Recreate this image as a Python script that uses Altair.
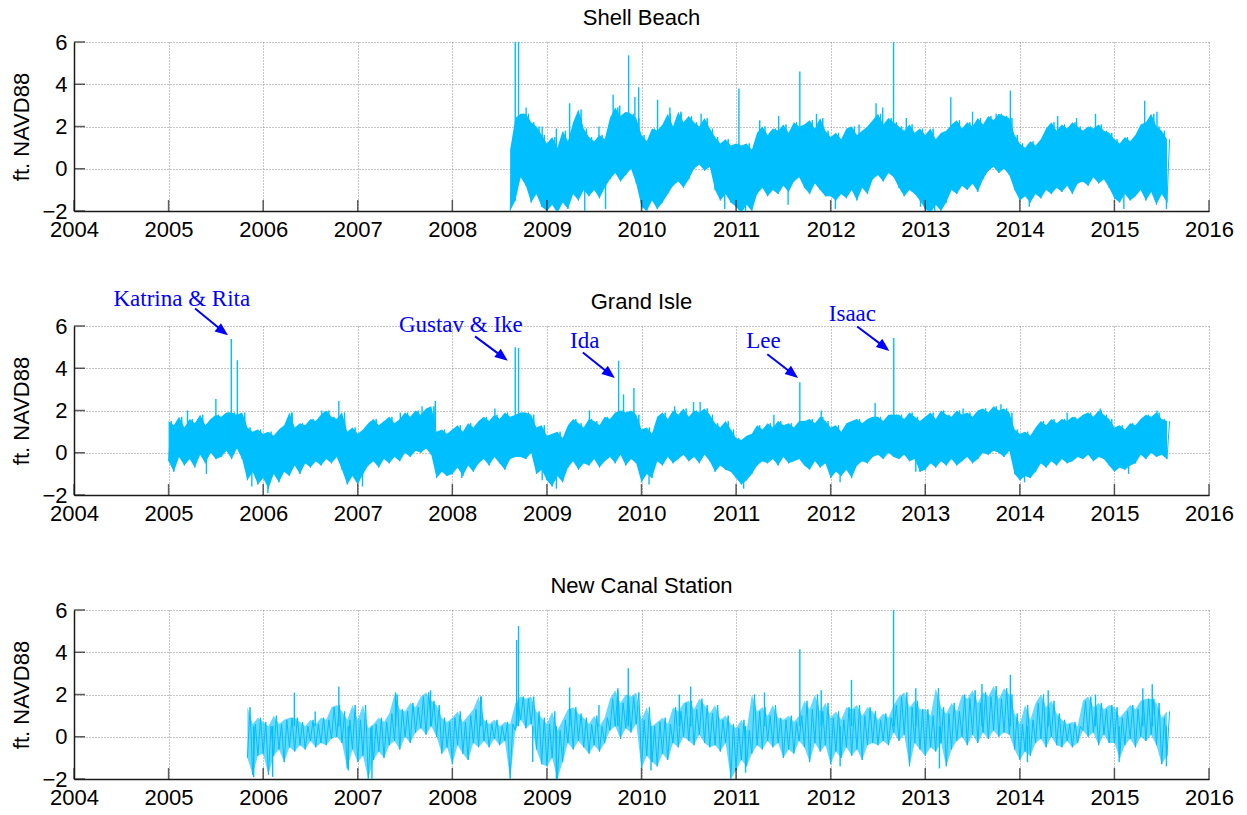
import altair as alt
import pandas as pd

# ---- axes -------------------------------------------------------------
YEARS = list(range(2004, 2017))
LEVEL_TICKS = [-2, 0, 2, 4, 6]

# Each station: low / high water level (ft NAVD88) envelope, one pair per
# 1/18 year (about 20 days), plus the short-lived highs and lows listed apart.
STEP = 1 / 18

SHELL_START = 2008 + 11 / 18
SHELL_LOW = [
    -2.0, -1.5, -0.4, -0.8, -1.6, -1.2, -1.8,
    -2.0, -1.7, -2.1, -1.6, -1.9, -1.2, -1.5, -1.0, -1.3, -1.0, -1.4, -0.9, -0.5, -0.2, -0.6, -0.3, 0.0, -0.7,
    -1.8, -2.0, -1.5, -1.9, -1.6, -1.2, -0.8, -0.6, -0.9, -0.5, 0.0, 0.2, -0.1, 0.1, -1.0, -1.5, -1.2, -1.6,
    -1.8, -2.1, -1.7, -2.0, -1.2, -0.9, -1.3, -1.0, -1.2, -0.8, -1.1, -0.6, -0.4, -0.9, -1.2, -0.7, -1.0, -1.3,
    -1.3, -1.5, -1.2, -1.4, -1.0, -1.5, -0.9, -1.2, -0.5, -0.3, -0.6, -0.2, -0.4, -0.9, -1.3, -1.0, -1.2, -1.5,
    -1.9, -2.1, -1.7, -2.0, -1.6, -1.0, -1.2, -0.8, -1.0, -0.7, -1.1, -0.5, -0.1, 0.1, -0.2, 0.0, -0.3, -1.0,
    -1.5, -1.3, -1.6, -1.2, -1.4, -1.0, -1.2, -0.9, -1.1, -0.8, -1.2, -0.7, -0.6, -0.8, -0.4, -0.7, -0.5, -0.9,
    -1.4, -1.6, -1.2, -1.5, -1.3, -1.0, -1.5, -1.1, -1.7, -1.2, -1.6,
]
SHELL_HIGH = [
    0.9, 2.4, 2.6, 2.6, 2.2, 2.0, 1.6,
    1.2, 1.5, 1.0, 1.8, 1.3, 2.2, 2.8, 1.9, 1.5, 1.3, 1.6, 1.4, 2.4, 2.9, 2.5, 2.7, 2.6, 2.4,
    1.6, 1.3, 1.9, 1.8, 2.1, 2.6, 2.0, 2.7, 2.2, 2.5, 2.2, 2.0, 2.4, 1.9, 1.5, 1.2, 1.4, 1.1,
    1.2, 1.1, 1.2, 0.9, 1.7, 2.0, 1.6, 1.9, 1.8, 2.1, 1.7, 2.2, 2.0, 2.1, 2.3, 1.9, 2.4, 1.8,
    1.5, 1.7, 1.4, 1.9, 2.0, 1.6, 1.8, 2.0, 2.3, 2.6, 2.1, 2.4, 2.2, 2.0, 1.8, 2.1, 1.7, 1.9,
    1.6, 1.9, 1.4, 1.7, 1.8, 2.1, 2.3, 1.9, 2.2, 2.0, 2.4, 2.1, 2.5, 2.3, 2.6, 2.5, 2.4, 1.6,
    1.2, 1.0, 1.3, 1.1, 1.4, 1.9, 2.2, 1.8, 2.1, 1.9, 2.2, 2.0, 1.8, 2.0, 1.9, 2.1, 1.8, 1.7,
    1.4, 1.2, 1.5, 1.3, 1.6, 2.1, 2.2, 2.6, 2.0, 1.8, 1.4,
]
SHELL_PEAK_YEAR = [2008.665, 2008.70, 2009.24, 2009.70, 2009.864, 2009.93, 2009.97,
                   2010.17, 2011.03, 2011.674, 2012.48, 2012.665, 2013.27, 2013.90, 2015.32,
                   2008.78, 2008.95, 2009.10, 2009.33, 2009.40, 2009.55, 2009.62, 2009.77,
                   2010.05, 2010.30, 2010.42, 2010.63, 2010.88, 2011.10, 2011.25, 2011.45,
                   2011.55, 2011.85, 2012.05, 2012.30, 2012.55, 2012.80, 2012.95, 2013.10,
                   2013.50, 2013.75, 2014.10, 2014.40, 2014.60, 2014.80, 2015.10, 2015.45,
                   2015.55]
SHELL_PEAK_LEVEL = [6.5, 6.5, 3.1, 3.5, 5.37, 3.4, 3.86,
                    3.27, 3.8, 4.6, 3.1, 6.5, 3.38, 3.7, 3.22,
                    2.9, 2.0, 1.9, 2.7, -2.1, 2.0, -1.9, 3.0,
                    -2.1, 2.9, 2.6, 2.6, -1.9, -2.2, 2.3, 2.5,
                    -1.7, 2.6, -1.9, 2.1, 2.9, 2.4, -1.8, -2.2,
                    2.7, 2.6, -1.8, 2.5, 2.4, 2.6, -1.9, 2.7,
                    -1.9]

GRAND_ISLE_START = 2005.0
GRAND_ISLE_LOW = [
    -0.4, -0.9, -0.2, -0.6, -0.3, -0.7, -0.1, -0.5, 0.0, -0.3, -0.2, 0.1, -0.3, 0.2, -0.3, -1.3, -0.9, -1.5,
    -1.2, -1.7, -1.0, -1.4, -0.9, -1.1, -0.6, -1.0, -0.5, -0.7, -0.4, -0.6, -0.3, -0.5, -0.2, -0.8, -1.5, -1.1,
    -1.5, -1.0, -0.6, -0.4, -0.7, -0.3, -0.5, -0.2, -0.4, 0.0, -0.2, 0.1, 0.0, 0.2, -0.1, -1.2, -0.9, -1.1,
    -1.0, -0.7, -1.1, -0.6, -0.9, -0.5, -0.3, -0.6, -0.2, -0.5, -0.8, -0.3, -0.2, -0.2, -0.3, 0.0, -1.0, -0.8,
    -1.3, -1.6, -1.1, -1.4, -0.7, -0.4, -0.8, -0.5, -0.6, -0.3, -0.7, -0.4, -0.2, -0.5, -0.1, -0.6, -0.3, -0.5,
    -1.4, -1.0, -1.2, -0.4, -0.6, -0.2, -0.5, -0.3, -0.1, -0.4, -0.2, -0.5, -0.1, -0.4, -0.9, -0.6, -0.8, -0.9,
    -1.2, -1.5, -1.3, -1.0, -0.6, -0.4, -0.5, -0.3, -0.6, -0.2, -0.5, -0.4, -0.3, -0.6, -0.8, -0.4, -0.7, -0.5,
    -1.2, -0.9, -1.1, -0.8, -1.2, -0.6, -0.4, -0.5, -0.2, -0.1, -0.3, 0.0, -0.2, -0.3, -0.1, -0.4, -0.3, -0.9,
    -0.8, -0.5, -0.7, -0.4, -0.6, -0.3, -0.6, -0.4, -0.2, -0.5, -0.3, 0.0, -0.1, 0.1, 0.0, -0.2, 0.1, -1.0,
    -1.3, -1.1, -1.2, -0.9, -0.5, -0.7, -0.4, -0.6, -0.3, -0.5, -0.4, -0.2, -0.3, -0.1, -0.4, -0.2, -0.3, -0.6,
    -0.9, -0.7, -0.8, -0.6, -0.5, -0.1, -0.3, 0.0, -0.2, -0.1, -0.3,
]
GRAND_ISLE_HIGH = [
    1.5, 1.3, 1.7, 1.2, 1.6, 1.4, 1.8, 1.3, 1.6, 1.8, 1.7, 1.9, 1.9, 1.8, 1.9, 1.2, 1.0, 1.1,
    0.9, 1.0, 0.8, 1.1, 1.3, 1.9, 1.2, 1.4, 1.3, 1.6, 1.5, 1.8, 2.0, 1.7, 1.6, 1.9, 1.0, 1.2,
    0.9, 1.1, 1.4, 1.6, 1.3, 1.5, 1.7, 1.4, 1.6, 1.9, 1.7, 2.0, 1.8, 2.1, 2.2, 1.0, 1.1, 0.9,
    1.1, 1.3, 1.0, 1.4, 1.2, 1.5, 1.7, 1.5, 1.8, 1.6, 1.9, 1.7, 1.8, 1.9, 1.9, 1.8, 1.2, 1.3,
    0.8, 0.9, 1.0, 0.7, 1.3, 1.6, 1.4, 1.2, 1.6, 1.5, 1.3, 1.7, 1.6, 1.9, 2.0, 1.9, 2.0, 1.8,
    1.1, 1.2, 0.9, 1.7, 1.9, 1.6, 2.0, 1.8, 2.1, 1.7, 2.0, 1.9, 2.1, 1.8, 1.4, 1.2, 1.5, 1.1,
    0.7, 0.6, 0.8, 0.9, 1.3, 1.1, 1.4, 1.2, 1.5, 1.3, 1.4, 1.2, 1.5, 1.5, 1.6, 1.4, 1.7, 1.5,
    1.2, 1.3, 1.0, 1.4, 1.5, 1.6, 1.4, 1.6, 1.7, 1.7, 1.5, 1.8, 1.8, 1.8, 1.6, 1.9, 1.7, 1.5,
    1.7, 1.9, 1.6, 2.0, 1.8, 1.7, 2.0, 1.8, 1.9, 1.7, 2.0, 2.1, 1.9, 2.2, 2.0, 2.1, 1.9, 1.1,
    0.9, 1.0, 0.8, 1.2, 1.5, 1.3, 1.6, 1.4, 1.6, 1.5, 1.7, 1.6, 1.8, 1.9, 1.7, 2.0, 1.8, 1.6,
    1.2, 1.3, 1.1, 1.4, 1.3, 1.6, 1.8, 1.7, 1.9, 1.6, 1.5,
]
GRAND_ISLE_PEAK_YEAR = [2005.50, 2005.663, 2005.727, 2006.80, 2007.82, 2008.665, 2008.70,
                        2009.758, 2009.81, 2009.92, 2010.55, 2011.674, 2012.47, 2012.667,
                        2005.20, 2005.40, 2005.88, 2006.05, 2006.30, 2006.62, 2007.05,
                        2007.45, 2007.68, 2008.10, 2008.45, 2008.95, 2009.10, 2009.45,
                        2010.08, 2010.35, 2010.62, 2011.08, 2011.40, 2011.90, 2012.10,
                        2012.90, 2013.40, 2013.80, 2014.05, 2014.50, 2014.85, 2015.15,
                        2015.45]
GRAND_ISLE_PEAK_LEVEL = [2.55, 5.39, 4.38, 2.45, 2.45, 5.0, 4.96,
                         4.36, 2.76, 3.07, 2.4, 3.34, 2.36, 5.43,
                         2.0, -1.0, -1.6, -1.9, 1.9, 2.0, -1.6,
                         1.9, 2.2, -1.2, 2.1, -1.3, -1.7, 2.0,
                         -1.5, 2.2, 2.4, -1.7, 1.8, 2.0, -1.4,
                         -0.9, 2.1, 2.3, -1.4, 1.9, 2.1, -1.0,
                         2.0]

NEW_CANAL_START = 2005 + 15 / 18
NEW_CANAL_LOW = [
    -1.0, -1.8, -0.9,
    -0.8, -1.8, -0.9, -0.6, -1.2, -0.5, -0.7, -0.4, -0.6, -0.2, -0.5, -0.3, -0.4, -0.1, 0.0, -0.3, -1.5, -0.6,
    -1.2, -0.9, -2.0, -1.1, -0.7, -1.0, -0.4, -0.2, -0.6, 0.0, -0.3, 0.2, 0.4, 0.1, 0.5, 0.0, -0.8, -0.5,
    -1.3, -0.4, -0.8, -1.1, -0.3, -0.5, -0.2, -0.5, -0.1, -0.4, -0.2, -2.0, 0.3, 0.8, 0.4, 0.6, -0.6, -1.3,
    -1.4, -1.0, -2.0, -1.2, -0.3, -0.6, -0.2, -0.5, -0.8, -0.4, -0.7, -0.3, 0.3, 0.5, -0.1, 0.4, 0.2, 0.6,
    -1.5, -0.9, -1.2, -1.4, -0.8, -1.1, -0.3, -0.5, 0.0, -0.2, -0.4, 0.1, -0.3, -0.5, -0.4, -0.7, -0.3, -2.0,
    -1.6, -1.1, -1.4, -0.8, -0.4, -0.6, -0.2, -0.5, -0.3, -1.0, -0.6, -0.8, -0.2, -0.5, -1.2, -0.3, -0.7, -0.4,
    -1.3, -0.7, -1.0, -0.5, -0.9, -0.6, -1.1, -0.4, -0.3, -0.4, -0.2, -0.4, 0.2, -0.2, 0.1, -1.4, -0.3, -0.6,
    -0.9, -0.5, -0.7, -0.3, -1.4, -0.6, -0.2, 0.0, -0.4, 0.1, -0.3, 0.2, -0.1, 0.3, 0.0, 0.2, 0.1, -0.6,
    -1.1, -0.7, -0.9, -0.3, -0.1, -0.5, 0.0, -0.4, -0.5, -0.2, -0.5, -0.3, 0.3, 0.0, 0.2, -0.4, 0.1, -0.3,
    -0.3, -1.0, -0.4, -0.1, -0.5, 0.0, -0.2, 0.1, -0.4, -1.3, -0.9,
]
NEW_CANAL_HIGH = [
    1.4, 0.6, 0.9,
    0.7, 0.5, 1.0, 0.6, 0.8, 0.9, 0.9, 0.7, 0.5, 0.8, 0.6, 0.9, 0.8, 1.4, 1.5, 1.2, 0.8, 1.5,
    0.8, 1.5, 0.4, 0.6, 0.9, 0.7, 1.1, 2.0, 1.3, 1.2, 1.6, 1.4, 1.9, 2.1, 1.7, 1.5, 0.9, 0.7,
    0.9, 1.2, 0.7, 1.0, 1.3, 1.9, 0.8, 0.6, 0.8, 0.5, 0.7, 0.6, 1.6, 1.9, 1.8, 1.9, 1.2, 0.9,
    0.6, 1.2, 0.3, 0.8, 1.3, 1.4, 1.1, 0.9, 0.6, 1.0, 0.5, 0.9, 1.8, 2.2, 1.6, 2.0, 1.9, 2.1,
    0.8, 1.4, 0.5, 0.7, 0.9, 0.6, 1.4, 1.2, 1.6, 1.7, 1.3, 1.8, 1.5, 1.1, 1.5, 0.8, 1.0, 0.6,
    0.4, 0.8, 0.3, 2.0, 1.2, 1.4, 1.0, 1.5, 0.9, 0.8, 1.0, 0.7, 1.0, 1.7, 1.3, 2.0, 1.2, 1.6,
    0.9, 1.2, 0.8, 1.4, 1.3, 1.5, 1.0, 1.4, 1.2, 0.8, 1.1, 0.9, 1.5, 1.9, 2.1, 1.4, 1.7, 1.3,
    1.3, 1.0, 2.3, 1.4, 1.1, 1.6, 1.2, 2.0, 1.8, 2.2, 1.6, 2.1, 1.9, 2.4, 1.8, 2.3, 2.0, 1.1,
    0.6, 1.5, 0.8, 1.6, 2.0, 1.4, 1.7, 1.1, 0.8, 0.6, 0.7, 0.5, 1.7, 1.9, 1.4, 1.6, 1.3, 1.5,
    1.4, 0.9, 1.2, 1.5, 1.3, 1.7, 1.8, 1.8, 1.6, 0.9, 1.2,
]
NEW_CANAL_PEAK_YEAR = [2006.33, 2006.80, 2007.77, 2008.68, 2008.70, 2009.24, 2009.86,
                       2010.52, 2011.674, 2012.22, 2012.665, 2013.90, 2015.40,
                       2005.90, 2006.10, 2006.55, 2006.90, 2007.15, 2007.40, 2008.30,
                       2008.85, 2009.10, 2009.55, 2009.75, 2010.10, 2010.40, 2011.10,
                       2011.30, 2011.90, 2012.10, 2012.90, 2013.15, 2013.60, 2014.08,
                       2014.30, 2014.80, 2015.05, 2015.30, 2015.55]
NEW_CANAL_PEAK_LEVEL = [2.09, 2.38, 2.2, 4.58, 5.24, 2.33, 3.24,
                        2.38, 4.14, 2.69, 6.0, 2.93, 2.49,
                        -1.9, -1.9, 1.2, -1.6, -2.0, 2.1, 1.9,
                        -1.2, -2.0, 1.5, 2.3, -1.6, 2.0, -1.7,
                        2.1, 2.2, -1.4, 2.3, -1.5, 2.5, -1.2,
                        2.2, 2.0, -1.2, 2.3, -1.4]

# Storm annotations on the Grand Isle panel (label position, arrow start, arrow head)
STORM_LABELS = ["Katrina & Rita", "Gustav & Ike", "Ida", "Lee", "Isaac"]
LABEL_YEAR = [2005.14, 2008.09, 2009.40, 2011.29, 2012.23]
LABEL_LEVEL = [7.27, 6.03, 5.27, 5.27, 6.55]
ARROW_FROM_YEAR = [2005.28, 2008.24, 2009.38, 2011.33, 2012.28]
ARROW_FROM_LEVEL = [6.83, 5.51, 4.75, 4.66, 5.98]
ARROW_TO_YEAR = [2005.574, 2008.532, 2009.664, 2011.601, 2012.566]
ARROW_TO_LEVEL = [5.75, 4.54, 3.73, 3.73, 5.01]


def envelope(start, lows, highs):
    assert len(lows) == len(highs)
    return pd.DataFrame({
        "year": [start + i * STEP for i in range(len(lows))],
        "level": lows,
        "high": highs,
    })


def zigzag(start, lows, highs):
    rows = []
    for i, (lo, hi) in enumerate(zip(lows, highs)):
        t = start + i * STEP
        rows.append({"year": t, "level": lo})
        rows.append({"year": t + STEP / 2, "level": hi})
    return pd.DataFrame(rows)


def peaks(years, levels):
    assert len(years) == len(levels)
    return pd.DataFrame({"year": years, "level": levels})


FONT = "Liberation Sans"
SERIF = "Liberation Serif"
W, H = 1135, 169
INK = "#1a1a1a"
WATER = "#00BFFF"

x_enc = alt.X(
    "year:Q",
    scale=alt.Scale(domain=[2004, 2016], nice=False, zero=False),
    axis=alt.Axis(
        values=YEARS, format="d", ticks=False, grid=True,
        gridDash=[1, 2], gridColor="#8c8c8c", gridWidth=1,
        labelFont=FONT, labelFontSize=22, labelColor="black", labelPadding=8,
        labelFlush=False, labelOverlap=False,
        domainColor=INK, domainWidth=1.5, title=None,
    ),
)
y_enc = alt.Y(
    "level:Q",
    scale=alt.Scale(domain=[-2, 6], nice=False, zero=False),
    axis=alt.Axis(
        values=LEVEL_TICKS, ticks=False, grid=True,
        gridDash=[1, 2], gridColor="#8c8c8c", gridWidth=1,
        labelFont=FONT, labelFontSize=22, labelColor="black", labelPadding=7,
        labelFlush=False, labelOverlap=False,
        domainColor=INK, domainWidth=1.5,
        title="ft. NAVD88", titleFont=FONT, titleFontSize=22,
        titleFontWeight="normal", titleColor="black", titlePadding=8,
    ),
)

year_ticks = pd.DataFrame({"year": YEARS})
level_ticks = pd.DataFrame({"level": LEVEL_TICKS})


def panel(title, start, lows, highs, peak_years, peak_levels, fill_opacity, extra=None):
    band = alt.Chart(envelope(start, lows, highs)).mark_area(
        color=WATER, opacity=fill_opacity, clip=True
    ).encode(x=x_enc, y=y_enc, y2="high:Q")
    line = alt.Chart(zigzag(start, lows, highs)).mark_line(
        color=WATER, strokeWidth=1, clip=True
    ).encode(x=x_enc, y=y_enc)
    spikes = alt.Chart(peaks(peak_years, peak_levels)).mark_rule(
        color=WATER, strokeWidth=1.4, clip=True
    ).encode(x=x_enc, y=y_enc, y2=alt.datum(0.5))
    xt = alt.Chart(year_ticks).mark_tick(
        orient="vertical", size=11, thickness=1.5, color=INK
    ).encode(x=x_enc, y=alt.value(H - 5.5))
    yt = alt.Chart(level_ticks).mark_tick(
        orient="horizontal", size=11, thickness=1.5, color=INK
    ).encode(y=y_enc, x=alt.value(5.5))
    heading = alt.Chart(pd.DataFrame({"name": [title]})).mark_text(
        font=FONT, fontSize=22, color="black", align="center", baseline="alphabetic"
    ).encode(text="name:N", x=alt.value(W / 2), y=alt.value(-17))
    layers = [band, line, spikes, xt, yt, heading] + (extra or [])
    return alt.layer(*layers).properties(width=W, height=H)


notes = pd.DataFrame({
    "label": STORM_LABELS,
    "year": LABEL_YEAR,
    "level": LABEL_LEVEL,
})
arrows = pd.DataFrame({
    "year": ARROW_FROM_YEAR,
    "level": ARROW_FROM_LEVEL,
    "year_end": ARROW_TO_YEAR,
    "level_end": ARROW_TO_LEVEL,
})
heads = pd.DataFrame({"year": ARROW_TO_YEAR, "level": ARROW_TO_LEVEL})

note_text = alt.Chart(notes).mark_text(
    font=SERIF, fontSize=23, color="#0000FF", align="center", baseline="middle"
).encode(x=x_enc, y=y_enc, text="label:N")
note_shaft = alt.Chart(arrows).mark_rule(
    color="#0000FF", strokeWidth=2
).encode(x=x_enc, y=y_enc, x2="year_end:Q", y2="level_end:Q")
note_head = alt.Chart(heads).mark_point(
    shape="M 1 0 L -1 -0.8 L -1 0.8 Z", angle=38, size=170,
    filled=True, color="#0000FF", opacity=1,
).encode(x=x_enc, y=y_enc)

shell = panel("Shell Beach", SHELL_START, SHELL_LOW, SHELL_HIGH,
              SHELL_PEAK_YEAR, SHELL_PEAK_LEVEL, 1.0)
grand_isle = panel("Grand Isle", GRAND_ISLE_START, GRAND_ISLE_LOW, GRAND_ISLE_HIGH,
                   GRAND_ISLE_PEAK_YEAR, GRAND_ISLE_PEAK_LEVEL, 1.0,
                   extra=[note_shaft, note_head, note_text])
new_canal = panel("New Canal Station", NEW_CANAL_START, NEW_CANAL_LOW, NEW_CANAL_HIGH,
                  NEW_CANAL_PEAK_YEAR, NEW_CANAL_PEAK_LEVEL, 0.6)

chart = alt.vconcat(
    shell, grand_isle, new_canal, spacing=115, bounds="flush"
).properties(
    padding={"left": 10, "top": 7, "right": 10, "bottom": 5},
    background="white",
).configure_view(stroke=None)

chart.save("out.html", embed_options={"renderer": "svg", "actions": False})
